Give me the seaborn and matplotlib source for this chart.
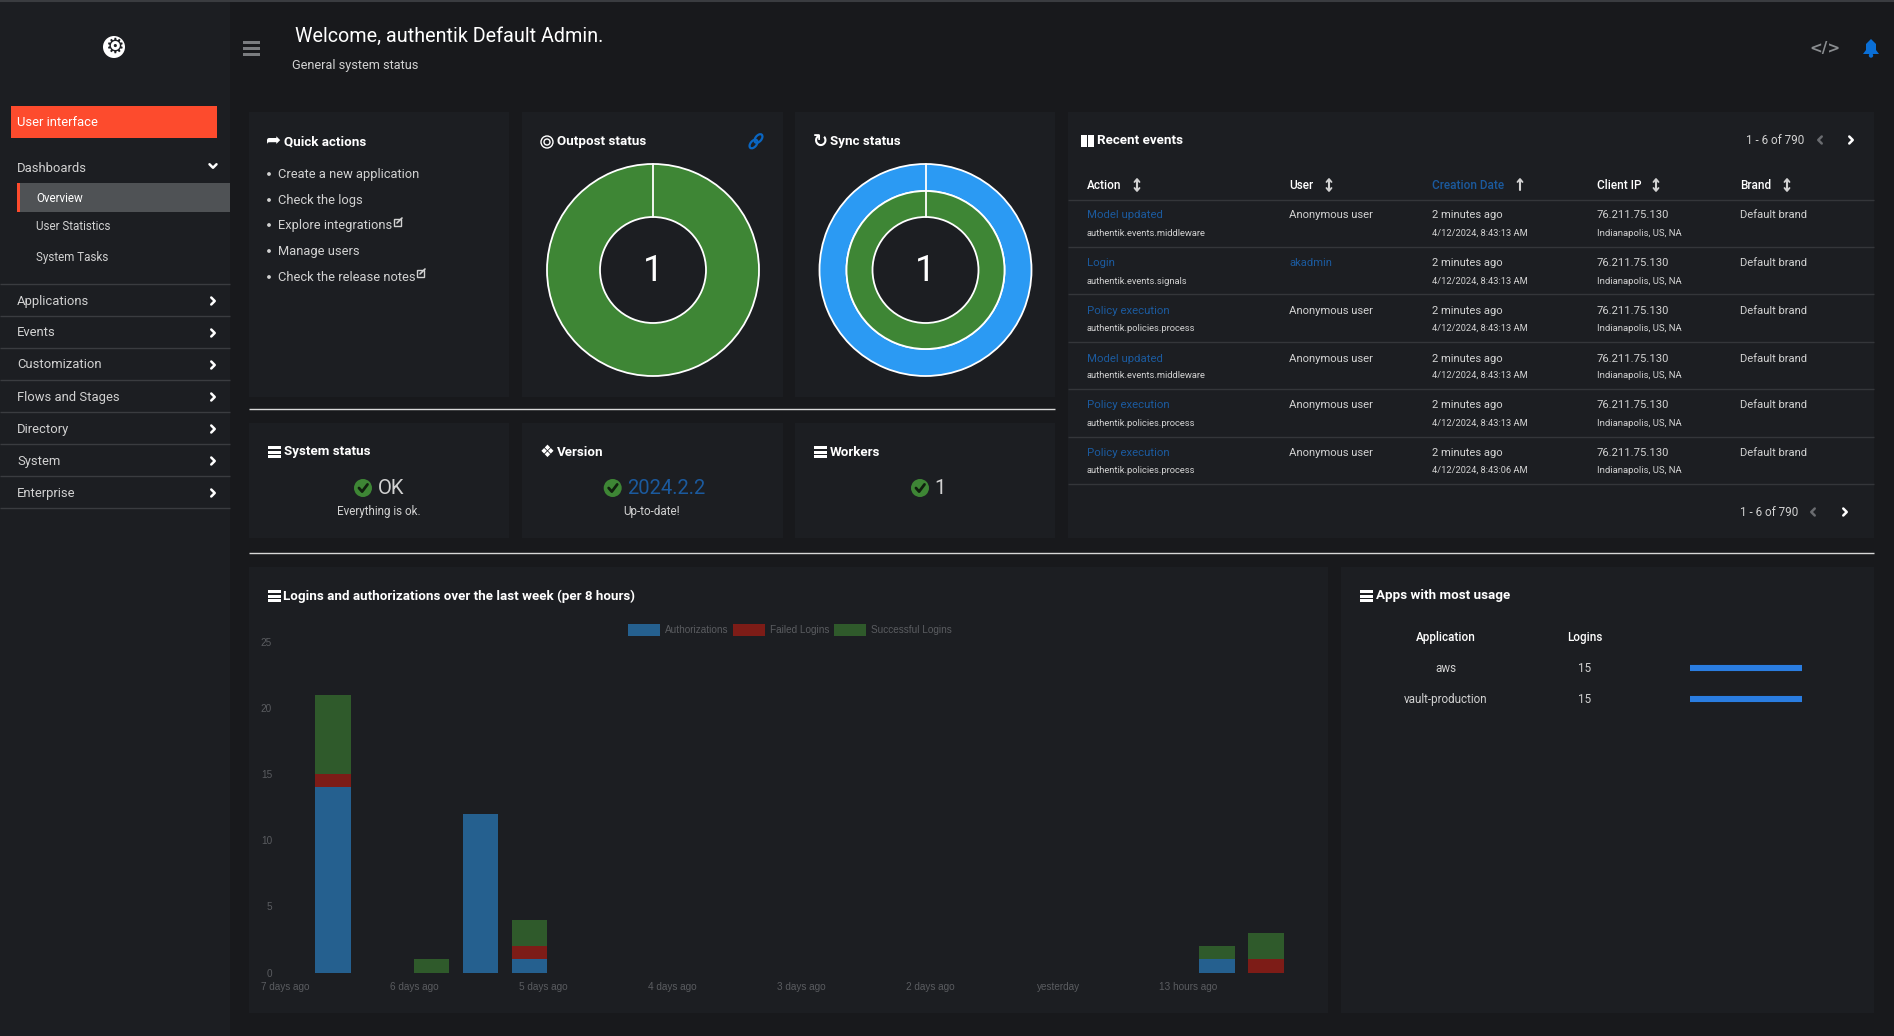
import numpy as np
import pandas as pd
import seaborn as sns
import matplotlib.pyplot as plt
from matplotlib.patches import Rectangle, Circle, Ellipse, Polygon, Patch

slots = list(range(20))
authorizations = [14, 0, 0, 12, 1, 0, 0, 0, 0, 0, 0, 0, 0, 0, 0, 0, 0, 0, 1, 0]
failed_logins = [1, 0, 0, 0, 1, 0, 0, 0, 0, 0, 0, 0, 0, 0, 0, 0, 0, 0, 0, 1]
successful_logins = [6, 0, 1, 0, 2, 0, 0, 0, 0, 0, 0, 0, 0, 0, 0, 0, 0, 0, 1, 2]
series_names = ['Authorizations', 'Failed Logins', 'Successful Logins']
x_tick_labels = ['7 days ago', '6 days ago', '5 days ago', '4 days ago', '3 days ago',
                 '2 days ago', 'yesterday', '13 hours ago']
y_ticks = [0, 5, 10, 15, 20, 25]

outpost_values = [1]
sync_outer_values = [1]
sync_inner_values = [1]

apps = ['aws', 'vault-production']
app_logins = [15, 15]

menu_items = ['Applications', 'Events', 'Customization', 'Flows and Stages', 'Directory', 'System', 'Enterprise']
quick_actions = ['Create a new application', 'Check the logs', 'Explore integrations', 'Manage users',
                 'Check the release notes']
event_actions = ['Model updated', 'Login', 'Policy execution', 'Model updated', 'Policy execution', 'Policy execution']
event_apps = ['authentik.events.middleware', 'authentik.events.signals', 'authentik.policies.process',
              'authentik.events.middleware', 'authentik.policies.process', 'authentik.policies.process']
event_users = ['Anonymous user', 'akadmin', 'Anonymous user', 'Anonymous user', 'Anonymous user', 'Anonymous user']
event_dates = ['4/12/2024, 8:43:13 AM'] * 5 + ['4/12/2024, 8:43:06 AM']

PAGE = '#18191c'
CARD = '#1c1e22'
WHITE = '#ffffff'
LIGHT = '#d2d2d2'
LINK = '#1b5a9e'
GREEN = '#3e8635'
BLUE = '#2b9af3'
W, H = 1894, 1036

sns.set_theme(style='dark', rc={'axes.facecolor': CARD, 'figure.facecolor': PAGE})
plt.rcParams['font.family'] = ['Roboto', 'DejaVu Sans']

fig = plt.figure(figsize=(W / 100, H / 100), dpi=100, facecolor=PAGE)
bg = fig.add_axes([0, 0, 1, 1])
bg.set_xlim(0, W)
bg.set_ylim(H, 0)
bg.axis('off')


def px_axes(x0, y0, x1, y1):
    # axes placed by screen pixels
    return fig.add_axes([x0 / W, 1 - y1 / H, (x1 - x0) / W, (y1 - y0) / H])


def box(x0, y0, x1, y1, color=CARD, z=1):
    bg.add_patch(Rectangle((x0, y0), x1 - x0, y1 - y0, fc=color, ec='none', zorder=z))


def label(x, y, s, size=9.4, color=LIGHT, ha='left', weight='normal', **kw):
    bg.text(x, y + 1, s, fontsize=size, color=color, ha=ha, va='center', weight=weight, zorder=5, **kw)


def hline(y, x0, x1, color='#34363a', lw=1):
    bg.plot([x0, x1], [y, y], color=color, lw=lw, zorder=2, solid_capstyle='butt')


def chevron(x, y, direction='right', color=LIGHT, s=3.5, lw=1.8):
    if direction == 'right':
        xs, ys = [x - s / 2, x + s / 2, x - s / 2], [y - s, y, y + s]
    elif direction == 'left':
        xs, ys = [x + s / 2, x - s / 2, x + s / 2], [y - s, y, y + s]
    else:
        xs, ys = [x - s, x, x + s], [y - s / 2, y + s / 2, y - s / 2]
    bg.plot(xs, ys, color=color, lw=lw, zorder=5)


def server_icon(x, y):
    for dy in [-6, -1.5, 3]:
        box(x, y + dy, x + 13, y + dy + 3.4, WHITE, 5)


def check(x, y, r=9):
    bg.add_patch(Circle((x, y), r, fc=GREEN, ec='none', zorder=5))
    bg.plot([x - r * .45, x - r * .1, x + r * .5], [y, y + r * .4, y - r * .4], color='#10200e', lw=2, zorder=6)


def ext_icon(x, y):
    bg.add_patch(Rectangle((x - 4, y - 3), 7, 7, fc='none', ec=LIGHT, lw=1, zorder=5))
    bg.plot([x - 1, x + 4], [y + 1, y - 4], color=LIGHT, lw=1.2, zorder=6)


def sort_icon(x, y, both=True, color=LIGHT):
    bg.plot([x, x], [y - 5, y + 5], color=color, lw=1.5, zorder=5)
    bg.plot([x - 2.5, x, x + 2.5], [y - 3, y - 6, y - 3], color=color, lw=1.3, zorder=5)
    if both:
        bg.plot([x - 2.5, x, x + 2.5], [y + 3, y + 6, y + 3], color=color, lw=1.3, zorder=5)


# sidebar
box(0, 0, 230, H, CARD)
hline(0.5, 0, W, '#3a3c40', 1.5)
bg.add_patch(Circle((114, 47), 11, fc=WHITE, ec='none', zorder=5))
bg.text(114, 47, '\u2699', fontsize=15, color=CARD, ha='center', va='center', family='DejaVu Sans', zorder=6)
box(11, 106, 217, 138, '#fd4b2d', 3)
label(17, 122, 'User interface', color=WHITE)
label(17, 167, 'Dashboards')
chevron(213, 166, 'down', color=WHITE)
box(17, 183, 230, 212, '#4f5255', 2)
box(17, 183, 20, 212, '#fd4b2d', 3)
label(36.5, 197, 'Overview', size=8.4, color=WHITE)
label(36.5, 226, 'User Statistics', size=8.4)
label(36.5, 256, 'System Tasks', size=8.4)
hline(284, 0, 230, '#3a3c40')
for i, item in enumerate(menu_items):
    y = 301 + i * 32
    label(17, y - 1, item)
    chevron(213, y, color=WHITE)
    hline(316 + i * 32, 0, 230, '#3a3c40')

# header
for yy in [41, 47, 53]:
    box(242.5, yy, 260, yy + 2.6, '#7a7c7f', 3)
label(295, 35.5, 'Welcome, authentik Default Admin.', size=14.2, color=WHITE)
label(291.5, 64, 'General system status', size=9.15)
bg.text(1825, 47, '</>', fontsize=11, color='#8a8d90', ha='center', va='center_baseline', weight='bold',
        family='DejaVu Sans', zorder=5)
bg.add_patch(Polygon([[1863, 54], [1866, 50], [1866, 44], [1871, 39], [1876, 44], [1876, 50], [1879, 54]],
                     fc='#0a6fd6', ec='none', zorder=5))
bg.add_patch(Circle((1871, 55.5), 2.2, fc='#0a6fd6', ec='none', zorder=5))

# cards
for x0, y0, x1, y1 in [(249, 112, 509, 397), (522, 112, 783, 397), (795, 112, 1055, 397),
                       (249, 423, 509, 538), (522, 423, 783, 538), (795, 423, 1055, 538),
                       (1068, 112, 1874, 538), (249, 567, 1328, 1013), (1341, 567, 1874, 1013)]:
    box(x0, y0, x1, y1)
hline(408.5, 249, 1055, '#d8d8d8')
hline(552.5, 249, 1874, '#d8d8d8')

# quick actions
TITLE = 9.65
bg.text(274, 142, '\u27a6', fontsize=13, color=WHITE, ha='center', va='center', family='DejaVu Sans', zorder=5)
label(283.5, 141, 'Quick actions', size=TITLE, color=WHITE, weight='bold')
for i, item in enumerate(quick_actions):
    y = [174, 200, 225, 251, 277][i]
    bg.add_patch(Circle((269, y), 1.9, fc=LIGHT, ec='none', zorder=5))
    label(278, y - 0.5, item, size=9.3)
ext_icon(398, 222)
ext_icon(421, 273)

# donuts
bg.add_patch(Circle((547, 142), 6, fc='none', ec=WHITE, lw=1, zorder=5))
bg.add_patch(Circle((547, 142), 3, fc='none', ec=WHITE, lw=1, zorder=5))
label(557, 141, 'Outpost status', size=TITLE, color=WHITE, weight='bold')
bg.add_patch(Ellipse((753.5, 144), 6, 10, angle=40, fc='none', ec='#0a66c2', lw=1.6, zorder=5))
bg.add_patch(Ellipse((758.5, 138.5), 6, 10, angle=40, fc='none', ec='#0a66c2', lw=1.6, zorder=5))
bg.text(820, 142, '\u21bb', fontsize=13, color=WHITE, ha='center', va='center', family='DejaVu Sans',
        weight='bold', zorder=5)
label(829.5, 141, 'Sync status', size=TITLE, color=WHITE, weight='bold')

edge = {'edgecolor': WHITE, 'linewidth': 1.3}
ax_out = px_axes(653 - 110, 270 - 110, 653 + 110, 270 + 110)
ax_out.pie(outpost_values, colors=[GREEN], radius=106 / 110, startangle=90,
           wedgeprops={'width': 53 / 110, **edge})
ax_out.plot([0, 0], [53 / 110, 106 / 110], color=WHITE, lw=1.3)
ax_out.set_xlim(-1, 1)
ax_out.set_ylim(-1, 1)
ax_sync = px_axes(925.5 - 110, 270 - 110, 925.5 + 110, 270 + 110)
ax_sync.pie(sync_outer_values, colors=[BLUE], radius=106 / 110, startangle=90,
            wedgeprops={'width': 27 / 110, **edge})
ax_sync.pie(sync_inner_values, colors=[GREEN], radius=79 / 110, startangle=90,
            wedgeprops={'width': 26 / 110, **edge})
ax_sync.plot([0, 0], [53 / 110, 106 / 110], color=WHITE, lw=1.3)
ax_sync.set_xlim(-1, 1)
ax_sync.set_ylim(-1, 1)
for ax in [ax_out, ax_sync]:
    ax.patch.set_alpha(0)
    ax.text(0, -0.01, '1', fontsize=26, color=WHITE, ha='center', va='center')

# status row
server_icon(268, 452)
label(283.5, 451, 'System status', size=TITLE, color=WHITE, weight='bold')
bg.text(547, 452, '\u2756', fontsize=12, color=WHITE, ha='center', va='center', family='DejaVu Sans', zorder=5)
label(557, 451, 'Version', size=TITLE, color=WHITE, weight='bold')
server_icon(814, 452)
label(829.5, 451, 'Workers', size=TITLE, color=WHITE, weight='bold')
check(363, 488)
label(378, 487.5, 'OK', size=14.6, color=LIGHT)
label(379, 510.5, 'Everything is ok.', size=8.4, ha='center')
check(612.7, 488)
label(627, 487.5, '2024.2.2', size=14.6, color=LINK)
label(652, 510.5, 'Up-to-date!', size=8.4, ha='center')
check(920, 488)
label(934, 487.5, '1', size=14.6, color=LIGHT)

# recent events
box(1081, 135, 1087, 147, WHITE, 5)
box(1088, 135, 1094, 147, WHITE, 5)
label(1097, 140, 'Recent events', size=TITLE, color=WHITE, weight='bold')
label(1746, 139.5, '1 - 6 of 790', size=8.4)
chevron(1820, 140, 'left', color='#6a6c70')
chevron(1851, 140, color=WHITE)
label(1740, 511.5, '1 - 6 of 790', size=8.4)
chevron(1813, 512, 'left', color='#6a6c70')
chevron(1845, 512, color=WHITE)

columns = [(1087, 'Action', 1137), (1289, 'User', 1329), (1432, 'Creation Date', 1520),
           (1597, 'Client IP', 1656), (1740, 'Brand', 1787)]
for x, name, sx in columns:
    active = name == 'Creation Date'
    label(x, 184.5, name, size=8.5, color=LINK if active else WHITE, weight='medium')
    sort_icon(sx, 185, both=not active)
hline(200, 1068, 1874)
main_y = [215, 263, 310, 358, 405, 452]
sub_y = [233, 281, 328, 375, 423, 470]
sep_y = [247, 294, 342, 389, 437, 484]
for i in range(6):
    label(1087, main_y[i] - 0.5, event_actions[i], size=8.2, color=LINK)
    label(1087, sub_y[i] - 0.5, event_apps[i], size=6.75)
    label(1289, main_y[i] - 0.5, event_users[i], size=8.15, color=LINK if event_users[i] == 'akadmin' else LIGHT)
    label(1432, main_y[i] - 0.5, '2 minutes ago', size=8.15)
    label(1432, sub_y[i] - 0.5, event_dates[i], size=6.7)
    label(1597, main_y[i] - 0.5, '76.211.75.130', size=8.15)
    label(1597, sub_y[i] - 0.5, 'Indianapolis, US, NA', size=6.8)
    label(1740, main_y[i] - 0.5, 'Default brand', size=8.15)
    hline(sep_y[i], 1068, 1874)

# logins chart
server_icon(268, 596)
label(283, 595, 'Logins and authorizations over the last week (per 8 hours)', size=TITLE, color=WHITE, weight='bold')

CHART = ['Liberation Sans', 'DejaVu Sans']
TICK = '#5a5c60'
bar_colors = ['#25608f', '#7d1c17', '#2f5a2b']
ax = px_axes(285, 641.7, 1290.6, 972.7)
ax.patch.set_alpha(0)
bottom = np.zeros(len(slots))
for values, color in zip([authorizations, failed_logins, successful_logins], bar_colors):
    frame = pd.DataFrame({'slot': slots, 'count': values})
    sns.barplot(data=frame, x='slot', y='count', color=color, saturation=1, width=0.72, errorbar=None,
                bottom=bottom, linewidth=0, ax=ax)
    bottom = bottom + np.array(values)
ax.set_xlim(-0.98, 19.5)
ax.set_ylim(0, 25)
ax.set_xlabel('')
ax.set_ylabel('')
ax.set_yticks(y_ticks)
ax.set_xticks(-0.98 + np.arange(len(x_tick_labels)) * 2.627)
ax.set_xticklabels(x_tick_labels, family=CHART, fontsize=7.2, color=TICK)
ax.set_yticklabels(y_ticks, family=CHART, fontsize=7.2, color=TICK)
ax.tick_params(axis='both', length=0)
ax.tick_params(axis='x', pad=6.5)
ax.tick_params(axis='y', pad=9.3)
ax.grid(False)
sns.despine(ax=ax, left=True, bottom=True)
handles = [Patch(fc=c, ec='none') for c in bar_colors]
fig.legend(handles, series_names, loc='center', bbox_to_anchor=(789.5 / W, 1 - 630 / H), ncol=3, frameon=False,
           prop={'family': CHART, 'size': 7.2}, labelcolor=TICK, handlelength=3.2, handleheight=1.4,
           handletextpad=0.5, columnspacing=0.45)

# apps with most usage
server_icon(1360, 596)
label(1376, 595, 'Apps with most usage', size=TITLE, color=WHITE, weight='bold')
label(1446, 636.5, 'Application', size=8.4, color=WHITE, ha='center', weight='medium')
label(1585, 636.5, 'Logins', size=8.4, color=WHITE, ha='center', weight='medium')
for i, app in enumerate(apps):
    y = 667.5 + i * 31
    label(1446, y, app, size=8.4, ha='center')
    label(1585, y, str(app_logins[i]), size=8.4, ha='center')

ax_apps = px_axes(1690, 652.5, 1801.5, 714.5)
ax_apps.patch.set_alpha(0)
sns.barplot(x=app_logins, y=apps, color='#2a7de1', saturation=1, width=0.1, errorbar=None,
            edgecolor='#2a7de1', linewidth=1.5, ax=ax_apps)
for bar in ax_apps.patches:
    bar.set_joinstyle('round')
ax_apps.set_xlim(0, max(app_logins))
ax_apps.axis('off')

fig.savefig('out.png', dpi=100, facecolor=PAGE)
